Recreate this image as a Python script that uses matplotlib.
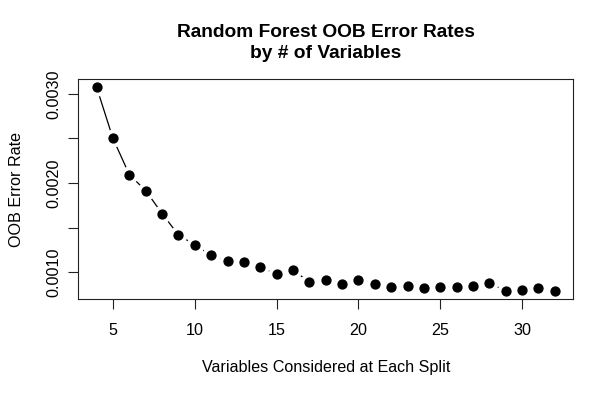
import matplotlib
matplotlib.use("Agg")
import matplotlib.pyplot as plt

plt.rcParams['font.family'] = ['Liberation Sans', 'DejaVu Sans']

# OOB error rate per number of variables tried at each split (mtry)
mtry = list(range(4, 33))
oob_err = [0.003075, 0.00250, 0.002094, 0.001915, 0.001657, 0.001418,
           0.001306, 0.001187, 0.001127, 0.001115, 0.001059, 0.000974,
           0.001022, 0.000891, 0.000910, 0.000866, 0.000910, 0.000866,
           0.000835, 0.000847, 0.000824, 0.000835, 0.000832, 0.000847,
           0.000877, 0.000790, 0.000798, 0.000817, 0.000790]

xticks = [5, 10, 15, 20, 25, 30]
yticks = [0.0010, 0.0015, 0.0020, 0.0025, 0.0030]
ytick_labels = ["0.0010", "", "0.0020", "", "0.0030"]

fig = plt.figure(figsize=(6.14, 3.97), dpi=100)
ax = fig.add_axes([0.1275, 0.2468, 0.806, 0.554])

# R type="b": line with gaps around points -> white halo under each dot
ax.plot(mtry, oob_err, color='black', lw=0.9, zorder=1)
ax.plot(mtry, oob_err, 'o', ms=12, color='white', mec='white', zorder=2)
ax.plot(mtry, oob_err, 'o', ms=6.4, color='black', zorder=3)

pad_x = (max(mtry) - min(mtry)) * 0.04
pad_y = (max(oob_err) - min(oob_err)) * 0.04
ax.set_xlim(min(mtry) - pad_x, max(mtry) + pad_x)
ax.set_ylim(min(oob_err) - pad_y, max(oob_err) + pad_y)

ax.set_xticks(xticks)
ax.set_yticks(yticks)
ax.set_yticklabels(ytick_labels, rotation=90, va='center')
ax.tick_params(length=7, width=0.8, labelsize=11.6, color='#222222')
ax.tick_params(axis='x', pad=10)
ax.tick_params(axis='y', pad=5)
for s in ax.spines.values():
    s.set_linewidth(0.8)
    s.set_color('#222222')

ax.set_xlabel("Variables Considered at Each Split", fontsize=11.6, va='center')
ax.xaxis.set_label_coords(0.5, -0.312)
ax.set_ylabel("OOB Error Rate", fontsize=11.6, va='center')
ax.yaxis.set_label_coords(-0.124, 0.5)

ax.set_title("Random Forest OOB Error Rates\nby # of Variables",
             fontsize=13.8, fontweight='bold', linespacing=1.35, pad=15)

fig.savefig("out.png", dpi=100)
